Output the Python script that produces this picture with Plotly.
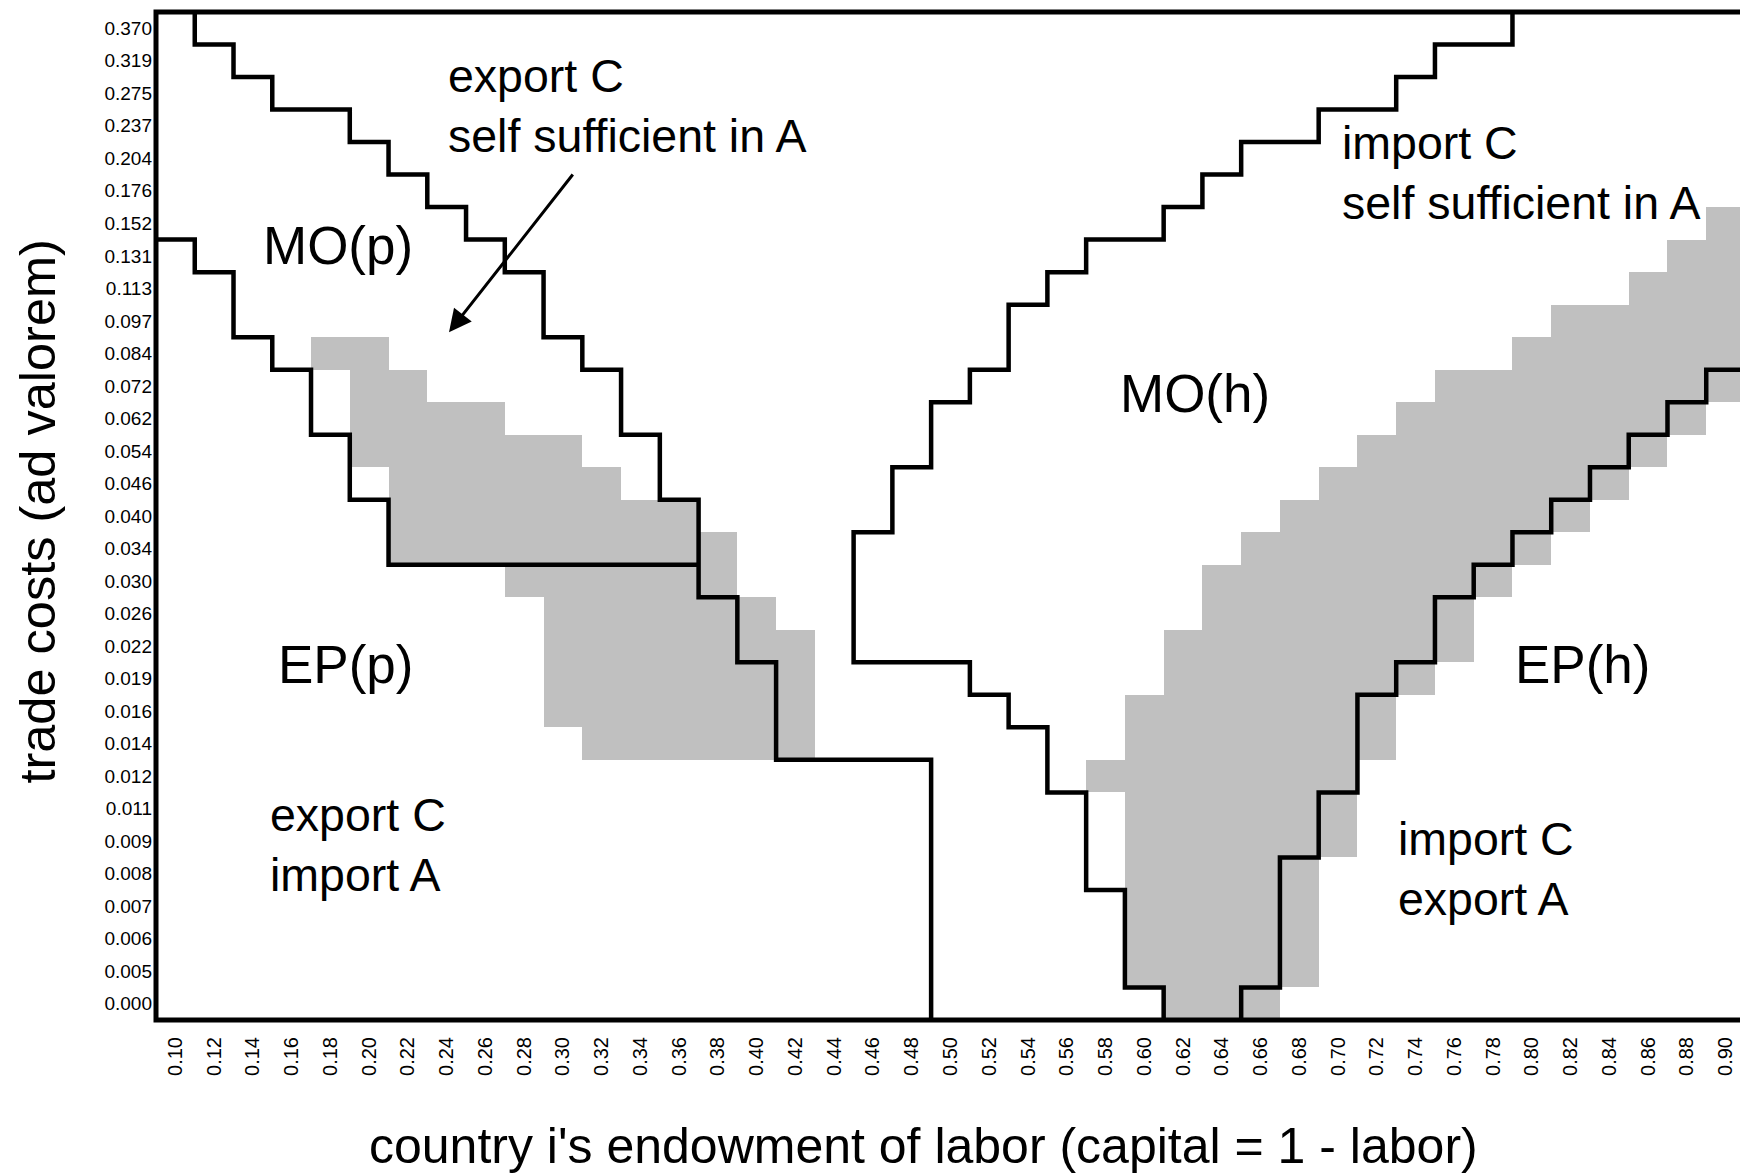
import numpy as np
import plotly.graph_objects as go

# trade cost rows, listed top to bottom as on the axis
trade_costs = ["0.370", "0.319", "0.275", "0.237", "0.204", "0.176", "0.152", "0.131",
               "0.113", "0.097", "0.084", "0.072", "0.062", "0.054", "0.046", "0.040",
               "0.034", "0.030", "0.026", "0.022", "0.019", "0.016", "0.014", "0.012",
               "0.011", "0.009", "0.008", "0.007", "0.006", "0.005", "0.000"]

# country i's labor endowment (columns)
labor = [0.10, 0.12, 0.14, 0.16, 0.18, 0.20, 0.22, 0.24, 0.26, 0.28, 0.30,
         0.32, 0.34, 0.36, 0.38, 0.40, 0.42, 0.44, 0.46, 0.48, 0.50,
         0.52, 0.54, 0.56, 0.58, 0.60, 0.62, 0.64, 0.66, 0.68, 0.70,
         0.72, 0.74, 0.76, 0.78, 0.80, 0.82, 0.84, 0.86, 0.88, 0.90]

# regime switch points (labor share) for every trade cost row, None = no boundary
mo_p_upper = [0.11, 0.13, 0.15, 0.19, 0.21, 0.23, 0.25, 0.27, 0.29, 0.29, 0.31,
              0.33, 0.33, 0.35, 0.35, 0.37, 0.37, 0.37, 0.39, 0.39, 0.41, 0.41,
              0.41, 0.49, 0.49, 0.49, 0.49, 0.49, 0.49, 0.49, 0.49]
mo_p_lower = [None] * 7 + [0.11, 0.13, 0.13, 0.15, 0.17, 0.17, 0.19, 0.19, 0.21, 0.21] + [None] * 14
mo_h_left = [0.79, 0.75, 0.73, 0.69, 0.65, 0.63, 0.61, 0.57, 0.55, 0.53, 0.53, 0.51,
             0.49, 0.49, 0.47, 0.47, 0.45, 0.45, 0.45, 0.45, 0.51, 0.53, 0.55, 0.55,
             0.57, 0.57, 0.57, 0.59, 0.59, 0.59, 0.61]
mo_h_right = [None] * 11 + [0.89, 0.87, 0.85, 0.83, 0.81, 0.79, 0.77, 0.75, 0.75, 0.73,
                            0.71, 0.71, 0.71, 0.69, 0.69, 0.67, 0.67, 0.67, 0.67, 0.65]

# shaded cells: first / last labor value per row
grey_p_first = [None] * 10 + [0.18, 0.20, 0.20, 0.20, 0.22, 0.22, 0.22, 0.28, 0.30, 0.30, 0.30, 0.30, 0.32] + [None] * 8
grey_p_last = [None] * 10 + [0.20, 0.22, 0.26, 0.30, 0.32, 0.36, 0.38, 0.38, 0.40, 0.42, 0.42, 0.42, 0.42] + [None] * 8
grey_h_first = [None] * 6 + [0.90, 0.88, 0.86, 0.82, 0.80, 0.76, 0.74, 0.72, 0.70, 0.68, 0.66, 0.64, 0.64,
                             0.62, 0.62, 0.60, 0.60, 0.58, 0.60, 0.60, 0.60, 0.60, 0.60, 0.60, 0.62]
grey_h_last = [None] * 6 + [0.90, 0.90, 0.90, 0.90, 0.90, 0.90, 0.88, 0.86, 0.84, 0.82, 0.80, 0.78, 0.76,
                            0.76, 0.74, 0.72, 0.72, 0.70, 0.70, 0.70, 0.68, 0.68, 0.68, 0.68, 0.66]

FONT = "Liberation Sans, Arial, Helvetica, sans-serif"
X_LO, X_HI = 0.09, 0.91


def step_path(cuts, start=None, end=None):
    rows = [i for i, v in enumerate(cuts) if v is not None]
    xs, ys = [], []
    if start is not None:
        xs.append(start)
        ys.append(rows[0] - 0.5)
    for i in rows:
        xs += [cuts[i], cuts[i]]
        ys += [i - 0.5, i + 0.5]
    if end is not None:
        xs.append(end)
        ys.append(rows[-1] + 0.5)
    return xs, ys


# grey cells as a heatmap mask
z = np.full((len(trade_costs), len(labor)), np.nan)
for first, last in [(grey_p_first, grey_p_last), (grey_h_first, grey_h_last)]:
    for r in range(len(trade_costs)):
        if first[r] is None:
            continue
        for c, x in enumerate(labor):
            if first[r] - 1e-9 <= x <= last[r] + 1e-9:
                z[r, c] = 1

fig = go.Figure()
fig.add_trace(go.Heatmap(
    x=labor, y=list(range(len(trade_costs))), z=z,
    colorscale=[[0, "#c0c0c0"], [1, "#c0c0c0"]],
    showscale=False, hoverinfo="skip", zmin=0, zmax=1,
))

lower_end = mo_p_upper[max(i for i, v in enumerate(mo_p_lower) if v is not None) + 1]
paths = [
    step_path(mo_p_upper),
    step_path(mo_p_lower, start=X_LO, end=lower_end),
    step_path(mo_h_left),
    step_path(mo_h_right, start=X_HI),
]
for xs, ys in paths:
    fig.add_trace(go.Scatter(x=xs, y=ys, mode="lines",
                             line=dict(color="black", width=4.5),
                             hoverinfo="skip"))

# region labels
labels = [
    (0.2402, 2.39, "export C<br>self sufficient in A", 46.5, "left"),
    (0.1839, 6.67, "MO(p)", 53, "center"),
    (0.188, 19.56, "EP(p)", 53, "center"),
    (0.1483, 25.13, "export C<br>import A", 46.5, "left"),
    (0.6261, 11.22, "MO(h)", 53, "center"),
    (0.7015, 4.45, "import C<br>self sufficient in A", 46.5, "left"),
    (0.8263, 19.56, "EP(h)", 53, "center"),
    (0.7304, 25.87, "import C<br>export A", 46.5, "left"),
]
for x, y, txt, size, anchor in labels:
    fig.add_annotation(x=x, y=y, text=txt, showarrow=False, xanchor=anchor,
                       yanchor="middle", align="left", borderpad=0,
                       font=dict(size=size, family=FONT, color="black"))

# arrow pointing into the MO(p) gap
fig.add_annotation(x=0.2412, y=9.35, ax=0.3057, ay=4.45, axref="x", ayref="y",
                   text="", showarrow=True, arrowhead=2, arrowsize=1.5,
                   arrowwidth=3, arrowcolor="black")

# axis titles
fig.add_annotation(xref="paper", yref="paper", x=-0.0745, y=0.504,
                   xanchor="center", yanchor="middle", borderpad=0,
                   text="trade costs (ad valorem)", textangle=-90, showarrow=False,
                   font=dict(size=50.5, family=FONT, color="black"))
fig.add_annotation(xref="paper", yref="paper", x=0.4827, y=-0.125,
                   xanchor="center", yanchor="middle",
                   text="country i's endowment of labor (capital = 1 - labor)",
                   showarrow=False, font=dict(size=50, family=FONT, color="black"))

# frame
fig.add_shape(type="rect", xref="paper", yref="paper", x0=0, y0=0, x1=1, y1=1,
              line=dict(color="black", width=5), layer="above")

fig.update_xaxes(range=[X_LO, X_HI], tickvals=labor,
                 ticktext=["%.2f" % v for v in labor], tickangle=-90,
                 tickfont=dict(size=20, family=FONT, color="black"),
                 showgrid=False, zeroline=False, showline=False, ticks="",
                 ticklabelstandoff=12)
fig.update_yaxes(range=[len(trade_costs) - 0.5, -0.5], tickvals=list(range(len(trade_costs))),
                 ticktext=trade_costs,
                 tickfont=dict(size=19, family=FONT, color="black"),
                 showgrid=False, zeroline=False, showline=False, ticks="",
                 ticklabelstandoff=3)
# page body adds an 8px offset, so the figure is drawn 8px smaller / shifted
fig.update_layout(width=1740, height=1165,
                  margin=dict(l=148, r=3, t=4, b=153, autoexpand=False),
                  plot_bgcolor="white", paper_bgcolor="white",
                  showlegend=False, font=dict(family=FONT, color="black"))

fig.write_html("out.html")
